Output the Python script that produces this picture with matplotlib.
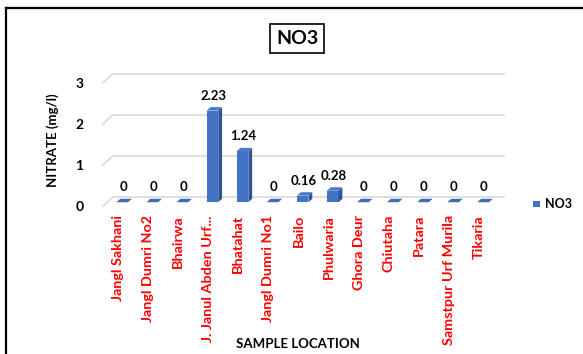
import matplotlib
matplotlib.use("Agg")
import matplotlib.pyplot as plt
from matplotlib.patches import Rectangle, Polygon
from matplotlib.lines import Line2D

plt.rcParams['font.family'] = ['Lato', 'DejaVu Sans']

locations = ["Jangl Sakhani", "Jangl Dumri No2", "Bhairwa", "J. Janul Abden Urf...",
             "Bhatahat", "Jangl Dumri No1", "Bailo", "Phulwaria", "Ghora Deur",
             "Chiutaha", "Patara", "Samstpur Urf Murila", "Tikaria"]
no3 = [0, 0, 0, 2.23, 1.24, 0, 0.16, 0.28, 0, 0, 0, 0, 0]
value_labels = ["0", "0", "0", "2.23", "1.24", "0", "0.16", "0.28", "0", "0", "0", "0", "0"]
y_ticks = [0, 1, 2, 3]

W, H = 583, 354
fig = plt.figure(figsize=(W / 100, H / 100), dpi=100)

# front plane of the 3-D box in figure pixels
x_left, x_right = 103, 494
y_zero, px_per_unit = 206, 41.1
ax = fig.add_axes([x_left / W, (H - y_zero) / H, (x_right - x_left) / W,
                   3 * px_per_unit / H])
n = len(locations)
ax.set_xlim(-0.5, n - 0.5)
ax.set_ylim(0, 3)
for s in ax.spines.values():
    s.set_visible(False)

# depth direction (one full depth unit) expressed in data units
px_per_cat = (x_right - x_left) / n
DX = 10 / px_per_cat
DY = 9 / px_per_unit

# back wall gridlines with the short receding edge at the left
grid_c = "#d9d9d9"
for v in y_ticks:
    ax.add_line(Line2D([-0.5 + DX, n - 0.5 + DX], [v + DY, v + DY], color=grid_c,
                       lw=1.2, clip_on=False, zorder=1))
    ax.add_line(Line2D([-0.5, -0.5 + DX], [v, v + DY], color=grid_c,
                       lw=1.2, clip_on=False, zorder=1))

# 3-D columns
front_c, side_c, top_c = "#4472C4", "#2F5597", "#4A78C8"
bw = 0.385
d0, d1 = 0.42, 0.80
for i, v in enumerate(no3):
    x0 = i - bw / 2 + d0 * DX
    y0 = d0 * DY
    ox, oy = (d1 - d0) * DX, (d1 - d0) * DY
    if v > 0:
        ax.add_patch(Rectangle((x0, y0), bw, v, fc=front_c, ec="none",
                               clip_on=False, zorder=3))
        ax.add_patch(Polygon([(x0 + bw, y0), (x0 + bw + ox, y0 + oy),
                              (x0 + bw + ox, y0 + v + oy), (x0 + bw, y0 + v)],
                             closed=True, fc=side_c, ec="none", clip_on=False, zorder=3))
    ax.add_patch(Polygon([(x0, y0 + v), (x0 + bw, y0 + v), (x0 + bw + ox, y0 + v + oy),
                          (x0 + ox, y0 + v + oy)],
                         closed=True, fc=top_c if v > 0 else "#3F6BB8", ec="none",
                         clip_on=False, zorder=3))
    ax.text(i + 0.5 * DX, v + y0 + 15 / px_per_unit, value_labels[i], ha="center",
            va="center", fontsize=9.5, fontweight="bold", color="black", zorder=4)

ax.set_yticks(y_ticks)
ax.set_yticklabels([str(t) for t in y_ticks], fontsize=10, fontweight="bold")
ax.tick_params(axis="y", length=0, pad=14)
ax.set_xticks(range(n))
ax.set_xticklabels(locations, rotation=90, fontsize=10.4, fontweight="bold", color="red",
                   va="top", ha="center")
ax.tick_params(axis="x", length=0, pad=6.5)

fig.text(53 / W, 1 - 140 / H, "NITRATE (mg/l)", rotation=90, ha="center", va="center",
         fontsize=9.5, fontweight="bold")
fig.text(298 / W, 1 - 344 / H, "SAMPLE LOCATION", ha="center", va="center",
         fontsize=9.5, fontweight="bold")

fig.text(297 / W, 1 - 38.5 / H, "NO3", ha="center", va="center", fontsize=14,
         fontweight="bold",
         bbox=dict(boxstyle="square,pad=0.32", fc="white", ec="black", lw=1.2))

# legend
fig.patches.append(Rectangle((533 / W, 1 - 207 / H), 7 / W, 6 / H, fc=front_c,
                             ec="none", transform=fig.transFigure))
fig.text(545 / W, 1 - 204.5 / H, "NO3", ha="left", va="center", fontsize=9,
         fontweight="bold")

# chart frame
fig.add_artist(Line2D([6 / W, 6 / W], [0, 1 - 8 / H], color="black", lw=1.6,
                      transform=fig.transFigure))
fig.add_artist(Line2D([6 / W, 582 / W], [1 - 8 / H, 1 - 8 / H], color="black", lw=1.6,
                      transform=fig.transFigure))

fig.savefig("out.png", dpi=100)
